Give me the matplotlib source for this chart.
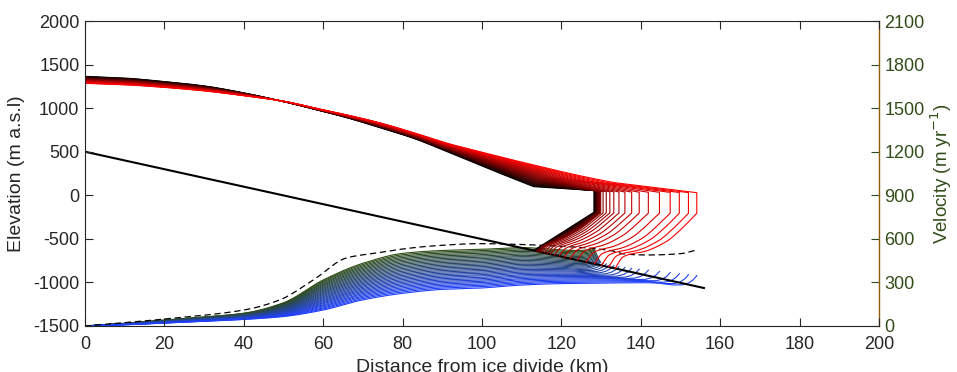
import numpy as np
import matplotlib
matplotlib.use("Agg")
import matplotlib.pyplot as plt

plt.rcParams['font.family'] = ['Liberation Sans', 'DejaVu Sans']
plt.rcParams['axes.unicode_minus'] = False

# ---------------------------------------------------------------------------
# Data
# ---------------------------------------------------------------------------
# Bed: straight ramp from the divide to the end of the domain (km, m a.s.l.)
bed_x = [0.0, 155.9]
bed_z = [500.0, -1064.0]

# Terminus and grounding-line positions of each modelled profile (km), oldest first
terminus_km = [128.2, 128.3, 128.4, 128.5, 128.6, 128.7, 128.8, 128.9, 129.0, 129.1,
               129.2, 129.3, 129.45, 129.6, 129.75, 129.9, 130.5, 131.3, 132.2, 133.2,
               134.5, 136.0, 137.7, 139.6, 141.9, 144.7, 147.4, 149.7, 152.0, 154.1]
grounding_km = [113.0, 113.1, 113.2, 113.3, 113.4, 113.5, 113.6, 113.7, 113.8, 113.9,
                114.0, 114.1, 114.2, 114.35, 114.5, 114.6, 115.1, 115.7, 116.4, 117.2,
                118.2, 119.4, 120.7, 122.2, 124.0, 126.2, 128.3, 130.1, 131.9, 133.5]

# Grounded ice-surface elevation of the first and last profiles (m a.s.l.)
surf_x = [0, 10, 20, 30, 40, 50, 58, 66, 74, 83, 91, 99.5, 106, 113, 120, 127, 134, 140]
surf_first = [1365, 1345, 1305, 1255, 1175, 1075, 985, 890, 780, 650, 505, 345, 225, 99,
              -25, -150, -270, -370]
surf_last = [1285, 1268, 1238, 1198, 1143, 1080, 1000, 922, 835, 715, 600, 500, 425, 348,
             272, 202, 140, 95]

# Surface height and base depth at the calving front (m)
front_top = [55.0, 30.0]
front_base = [-195.0, -207.0]

# Ice-shelf base shape between grounding line (0) and front (1), last profile
shelf_u = [0.0, 0.10, 0.22, 0.34, 0.63, 0.80, 1.0]
shelf_f = [0.0, 0.21, 0.27, 0.30, 0.49, 0.70, 1.0]

# Modelled surface velocity of the first and last profiles (m/yr)
vel_x = [0, 10, 20, 30, 40, 50, 60, 70, 80, 90, 100, 110, 120, 130, 140, 150, 156]
vel_first = [0, 18, 41, 62, 88, 160, 317, 432, 500, 520, 528, 540, 525, 520, 520, 520, 520]
vel_last = [0, 8, 20, 32, 45, 65, 110, 180, 225, 252, 262, 282, 292, 295, 298, 292, 292]

# Velocity change near the calving front (distance from front, km; m/yr)
front_d = [0.0, 0.8, 2.0, 3.5, 6.0, 10.0]
front_dv = [55.0, 28.0, 5.0, -8.0, -10.0, 0.0]

# Observed surface velocity (m/yr)
obs_x = [0, 20, 40, 49, 57.5, 66, 74, 80, 87, 99.5, 110, 120, 128, 133, 136, 142, 150, 154]
obs_v = [0, 48, 110, 179, 317, 470, 505, 530, 550, 567, 561, 549, 534, 516, 495, 489, 498, 523]

# ---------------------------------------------------------------------------
# Helpers
# ---------------------------------------------------------------------------
def pchip(xk, yk, x):
    xk = np.asarray(xk, float)
    yk = np.asarray(yk, float)
    x = np.asarray(x, float)
    h = np.diff(xk)
    d = np.diff(yk) / h
    m = np.zeros_like(yk)
    for k in range(1, len(xk) - 1):
        if d[k - 1] * d[k] > 0:
            w1 = 2 * h[k] + h[k - 1]
            w2 = h[k] + 2 * h[k - 1]
            m[k] = (w1 + w2) / (w1 / d[k - 1] + w2 / d[k])
    m[0] = d[0]
    m[-1] = d[-1]
    i = np.clip(np.searchsorted(xk, x) - 1, 0, len(h) - 1)
    t = (x - xk[i]) / h[i]
    h00 = 2 * t**3 - 3 * t**2 + 1
    h10 = t**3 - 2 * t**2 + t
    h01 = -2 * t**3 + 3 * t**2
    h11 = t**3 - t**2
    return h00 * yk[i] + h10 * h[i] * m[i] + h01 * yk[i + 1] + h11 * h[i] * m[i + 1]


def bed(x):
    return np.interp(x, bed_x, bed_z)


n = len(terminus_km)
weights = np.linspace(0.0, 1.0, n)

# ---------------------------------------------------------------------------
# Figure
# ---------------------------------------------------------------------------
fig = plt.figure(figsize=(9.57, 3.72), dpi=100)
ax = fig.add_axes([85 / 957, 46 / 372, 794 / 957, 305 / 372])
ax2 = ax.twinx()
ax2.set_zorder(ax.get_zorder() - 1)
ax.patch.set_visible(False)
ax2.patch.set_visible(True)
ax2.patch.set_facecolor('white')

axis_grey = (0.15, 0.15, 0.15)
vel_green = (0.20, 0.30, 0.10)
spine_brown = (0.55, 0.36, 0.05)

# Velocity profiles: dark green (first) to blue (last)
c_v0 = np.array([0.18, 0.30, 0.08])
c_v1 = np.array([0.12, 0.25, 1.00])
for i, w in enumerate(weights):
    xt = terminus_km[i]
    xv = np.linspace(0, xt, 500)
    v = (1 - w) * pchip(vel_x, vel_first, xv) + w * pchip(vel_x, vel_last, xv)
    v = v + (0.3 + 0.7 * w) * np.interp(xt - xv, front_d, front_dv)
    ax2.plot(xv, v, color=(1 - w) * c_v0 + w * c_v1, lw=0.8)

obs_xs = np.linspace(0, obs_x[-1], 400)
ax2.plot(obs_xs, pchip(obs_x, obs_v, obs_xs), color='black', lw=0.9, dashes=(5, 3))

# Bed
ax.plot(bed_x, bed_z, color='black', lw=1.5, zorder=1)

# Ice geometry: black (first) to red (last)
for i, w in enumerate(weights):
    xt = terminus_km[i]
    xg = grounding_km[i]
    xs = np.linspace(0, xg, 400)
    s = (1 - w) * pchip(surf_x, surf_first, xs) + w * pchip(surf_x, surf_last, xs)
    top = (1 - w) * front_top[0] + w * front_top[1]
    zb = (1 - w) * front_base[0] + w * front_base[1]
    # floating surface
    xf = np.linspace(xg, xt, 60)
    sf = np.interp(xf, [xg, xt], [s[-1], top])
    # shelf base back to the grounding line
    u = np.linspace(1, 0, 80)
    f = (1 - w) * u + w * pchip(shelf_u, shelf_f, u)
    zg = bed(xg)
    xb = xg + u * (xt - xg)
    b = zg + (zb - zg) * f
    X = np.concatenate([xs, xf, [xt], xb])
    Z = np.concatenate([s, sf, [zb], b])
    ax.plot(X, Z, color=(w, 0.0, 0.0), lw=0.8, zorder=2)

# Axes styling
ax.set_xlim(0, 200)
ax.set_ylim(-1500, 2000)
ax.set_xticks(np.arange(0, 201, 20))
ax.set_yticks(np.arange(-1500, 2001, 500))
ax2.set_ylim(0, 2100)
ax2.set_yticks(np.arange(0, 2101, 300))

ax.tick_params(axis='both', direction='in', length=5.5, width=0.8, colors=axis_grey,
               labelsize=13, top=True, right=False)
ax.tick_params(axis='x', pad=7)
ax.tick_params(axis='y', pad=4)
ax2.tick_params(axis='y', direction='in', length=5.5, width=0.8, colors=vel_green,
                labelsize=13, pad=4)
for sp in ['left', 'bottom', 'top']:
    ax.spines[sp].set_color(axis_grey)
    ax.spines[sp].set_linewidth(0.8)
ax.spines['right'].set_visible(False)
for sp in ['left', 'bottom', 'top']:
    ax2.spines[sp].set_visible(False)
ax2.spines['right'].set_color(spine_brown)
ax2.spines['right'].set_linewidth(1.0)

ax.set_xlabel('Distance from ice divide (km)', fontsize=14, color=axis_grey, labelpad=4.5)
ax.set_ylabel('Elevation (m a.s.l)', fontsize=14, color=axis_grey, labelpad=6)
ax2.set_ylabel('Velocity (m yr$^{-1}$)', fontsize=13.5, color=vel_green, labelpad=3)

fig.savefig('out.png', dpi=100)
